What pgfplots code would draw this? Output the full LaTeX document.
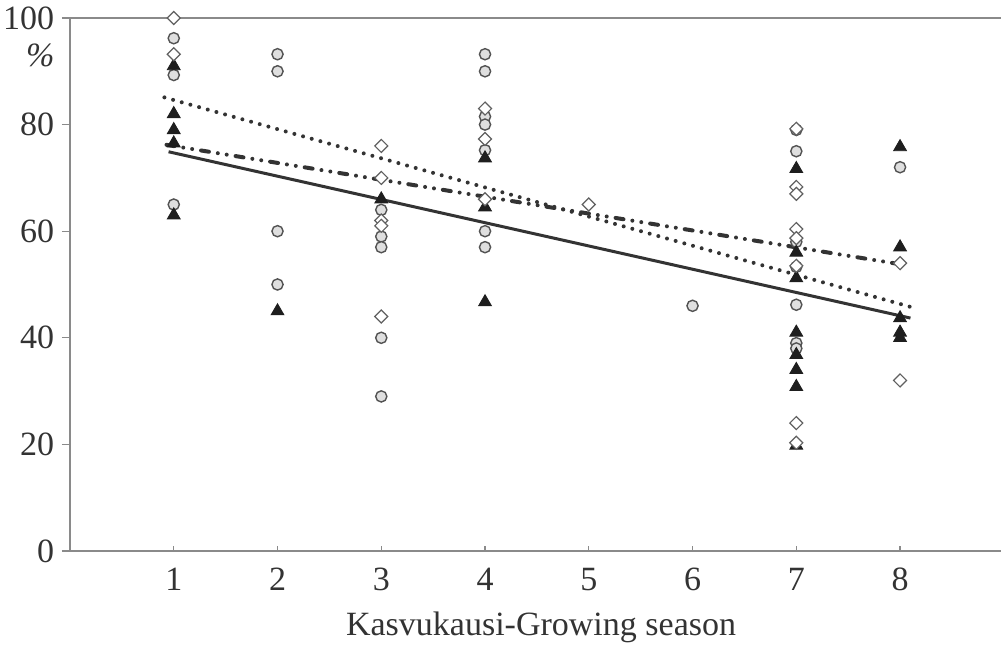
\documentclass[border=0pt]{standalone}
\usepackage{pgfplots}
\pgfplotsset{compat=1.18}
\usepackage{fontspec}
\setmainfont{Liberation Serif}
\definecolor{txt}{HTML}{333333}
\definecolor{axgray}{HTML}{8A8A8A}
\definecolor{mk}{HTML}{1E1E1E}
\begin{document}
\begin{tikzpicture}
\begin{axis}[name=ax,
  scale only axis, width=465.5pt, height=266.5pt,
  xmin=0, xmax=8.973, ymin=0, ymax=100,
  axis x line*=box, axis y line*=left,
  axis line style={axgray, line width=0.6pt},
  xtick={1,...,8}, ytick={0,20,...,100},
  xtick pos=left, ytick pos=left,
  xtick align=inside, ytick align=outside,
  x tick style={axgray, line width=0.6pt, /pgfplots/major tick length=2.5pt},
  y tick style={axgray, line width=0.6pt, /pgfplots/major tick length=4pt},
  /pgf/number format/assume math mode=true,
  tick label style={font=\fontsize{17}{20}\selectfont, text=txt},
  xticklabel style={yshift=-5pt},
  yticklabel style={inner sep=3.5pt},
  xlabel={Kasvukausi-Growing season},
  xlabel style={font=\fontsize{17}{20}\selectfont, text=txt, anchor=base,
    at={(axis description cs:0.506,-0.158)}},
  clip=false]
% circles
\addplot[only marks, mark=*, mark size=2.8pt,
  mark options={fill=gray!25, draw=gray!65!black, line width=0.7pt}] coordinates {
  (1,96.2)(1,89.3)(1,65)
  (2,93.2)(2,90)(2,60)(2,50)
  (3,64)(3,59)(3,57)(3,40)(3,29)
  (4,93.2)(4,90)(4,81.5)(4,80)(4,75.2)(4,60)(4,57)
  (6,46)
  (7,79)(7,75)(7,58)(7,53.3)(7,46.2)(7,39)(7,38)
  (8,72)};
% triangles
\addplot[only marks, mark=triangle*, mark size=3.7pt,
  mark options={fill=mk, draw=mk}] coordinates {
  (1,91)(1,82)(1,79)(1,76.5)(1,63)
  (2,45)
  (3,66)
  (4,73.7)(4,64.5)(4,46.7)
  (7,71.7)(7,56)(7,51.2)(7,41)(7,36.8)(7,34)(7,30.8)(7,19.8)
  (8,75.8)(8,57)(8,43.7)(8,41)(8,40)};
% diamonds
\addplot[only marks, mark=square*, mark size=2.3pt,
  mark options={rotate=45, fill=white, draw=gray!75!black, line width=0.6pt}] coordinates {
  (1,100)(1,93.2)
  (3,76)(3,70)(3,62)(3,61)(3,44)
  (4,83)(4,77.3)(4,66)
  (5,65)
  (7,79.2)(7,68.3)(7,67)(7,60.4)(7,58.7)(7,53.5)(7,24)(7,20.3)
  (8,54)(8,32)};
% trend lines
\addplot[no marks, color=txt, line width=1.5pt] coordinates {(0.95,74.9)(8.1,43.7)};
\addplot[no marks, color=txt, line width=2pt, line cap=round,
  dash pattern=on 0pt off 4.5pt] coordinates {(0.91,85.1)(8.1,45.8)};
\addplot[no marks, color=txt, line width=2pt, line cap=round,
  dash pattern=on 4pt off 4.5pt on 0pt off 4.5pt on 0pt off 4.5pt] coordinates {(0.93,76.2)(8.0,53.8)};
\node[font=\fontsize{17}{20}\selectfont\itshape, text=txt, inner sep=0pt] at (axis description cs:-0.032,0.930) {\%};
\end{axis}
\pgfresetboundingbox
\path ([xshift=-35pt,yshift=-47pt]ax.south west) rectangle ([yshift=9pt]ax.north east);
\end{tikzpicture}
\end{document}
